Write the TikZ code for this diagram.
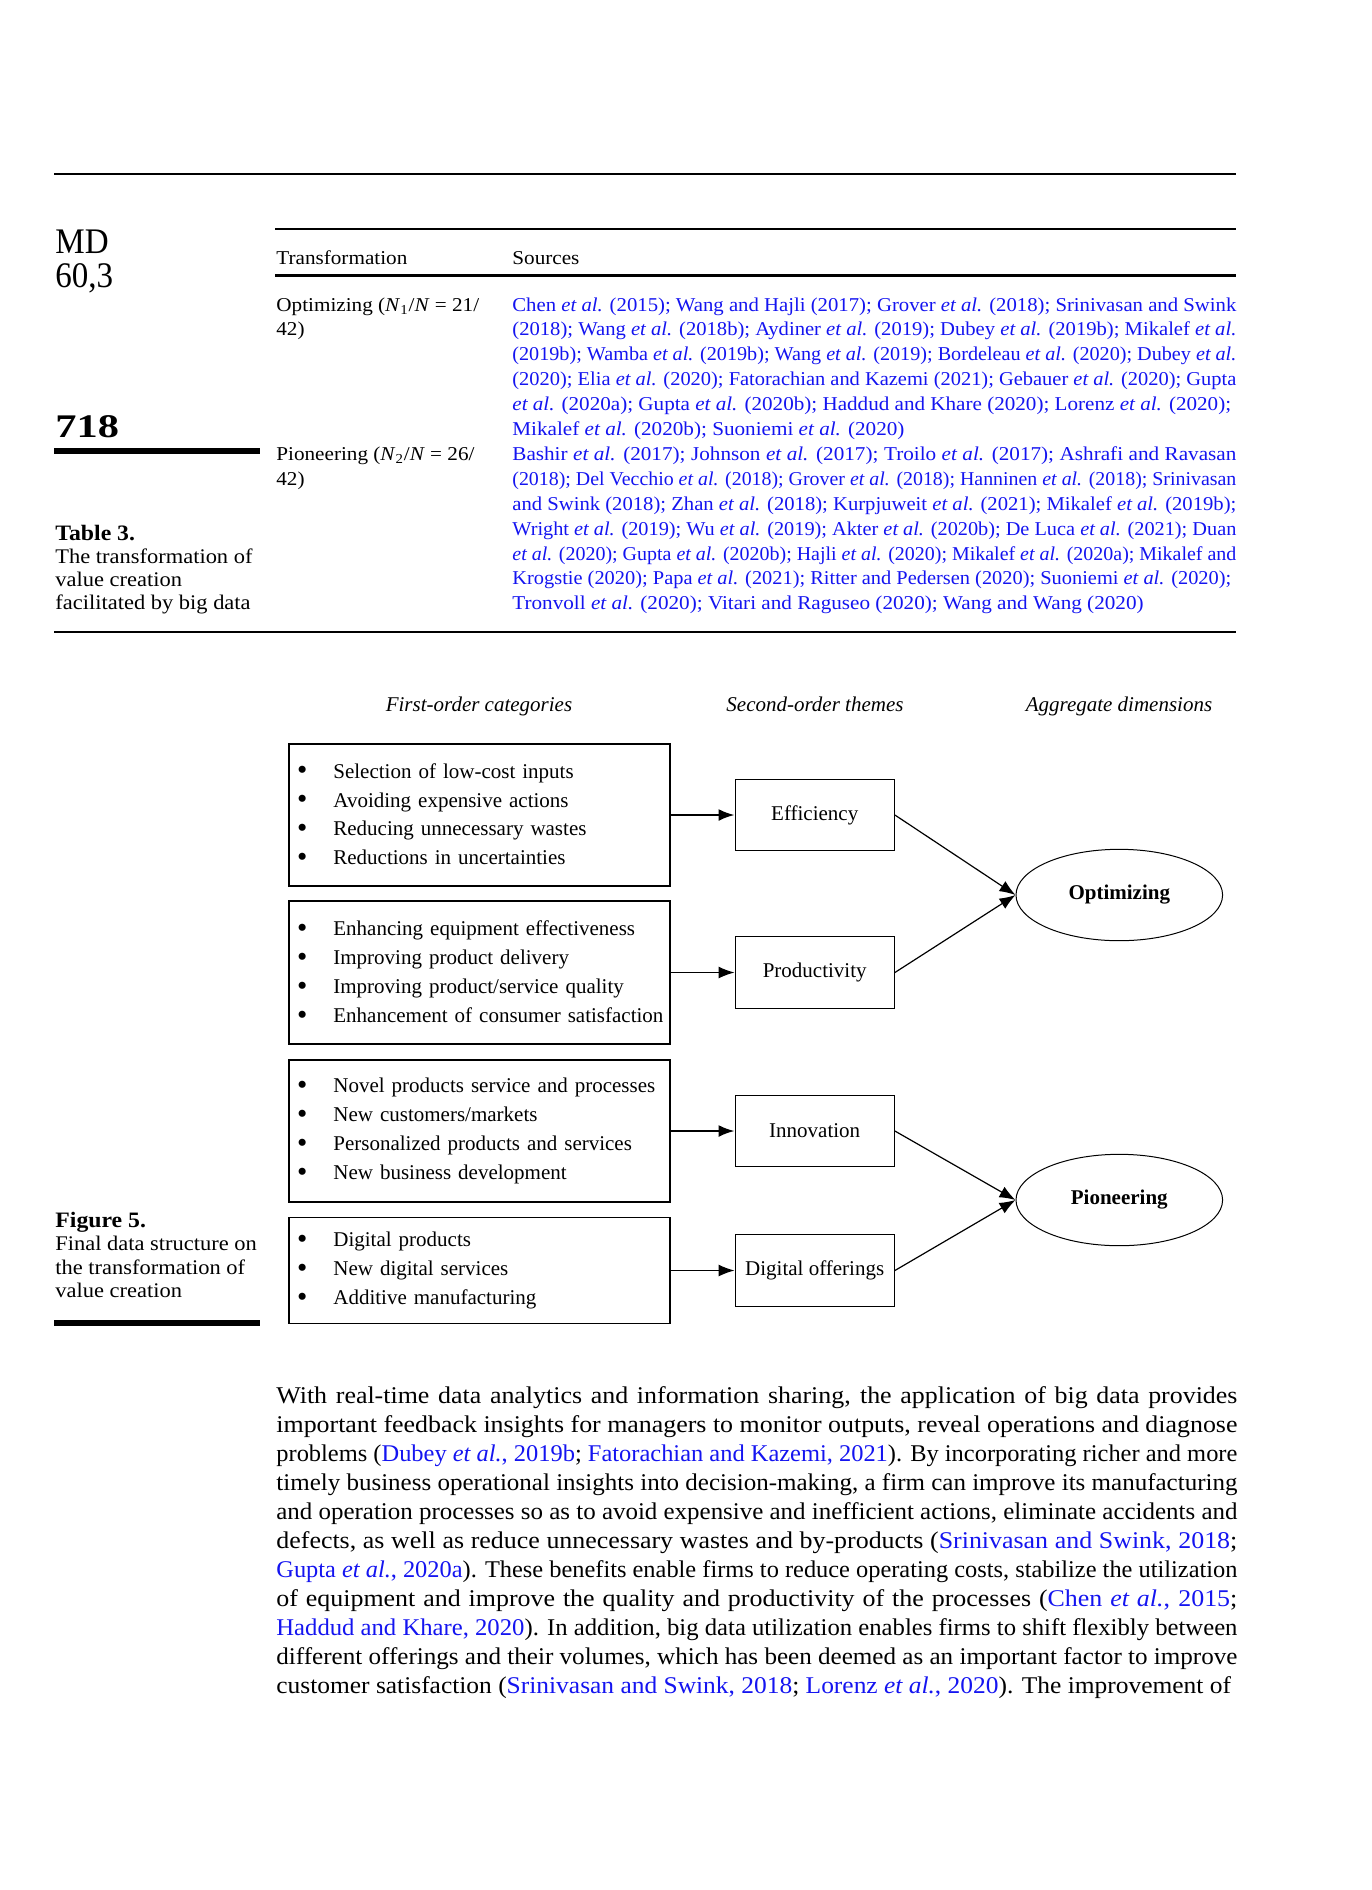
\documentclass[tikz,border=0pt]{standalone}
\usepackage{fontspec}
\setmainfont{Liberation Serif}[FakeStretch=1.08]
\newfontfamily\figfont{Liberation Serif}
\usepackage{graphicx}
\usepackage{xcolor}
\usetikzlibrary{
    arrows.meta,
    shapes.geometric,
    positioning
}
\definecolor{linkblue}{RGB}{20,20,240}

% one justified line of text
\newsavebox\jlinebox
\newcommand\jline[2]{%
  \sbox\jlinebox{#2}%
  \ifdim\wd\jlinebox>#1\relax
    \resizebox{#1}{\height}{\usebox\jlinebox}%
  \else
    \makebox[#1][s]{#2}%
  \fi}
\newcommand\etal{\textit{et al.}}
\newcommand\lk[1]{\textcolor{linkblue}{#1}}
\newcommand\bl{\makebox[20.2pt][l]{\hspace{2pt}\raisebox{-0.9pt}{\scalebox{1.4}{\textbullet}}}}

\tikzstyle{runhead} = [
    anchor=base west,
    inner sep=0pt,
    font=\fontsize{18}{18}\selectfont
]
\tikzstyle{pagenum} = [
    anchor=base west,
    inner sep=0pt,
    font=\fontsize{16.5}{18}\selectfont\bfseries
]
\tikzstyle{tabtext} = [
    anchor=base west,
    inner sep=0pt,
    font=\fontsize{9.8}{12}\selectfont
]
\tikzstyle{srcline} = [
    tabtext,
    text=linkblue
]
\tikzstyle{capbold} = [
    anchor=base west,
    inner sep=0pt,
    font=\fontsize{11}{12}\selectfont\bfseries
]
\tikzstyle{capline} = [
    anchor=base west,
    inner sep=0pt,
    font=\fontsize{10.4}{12}\selectfont
]
\tikzstyle{bodyline} = [
    anchor=base west,
    inner sep=0pt,
    font=\fontsize{12}{14}\selectfont
]
\tikzstyle{heading} = [
    anchor=base,
    inner sep=0pt,
    font=\figfont\fontsize{10.5}{12}\selectfont\itshape
]
\tikzstyle{catbox} = [
    draw,
    line width=0.7pt,
    align=left,
    text width=186.5pt,
    inner xsep=2pt,
    inner ysep=0pt,
    font=\figfont\fontsize{10.5}{14.45}\selectfont
]
\tikzstyle{theme} = [
    draw,
    line width=0.7pt,
    minimum width=79.5pt,
    minimum height=35.75pt,
    inner sep=1pt,
    font=\figfont\fontsize{10.5}{12}\selectfont
]
\tikzstyle{dimension} = [
    draw,
    ellipse,
    line width=0.5pt,
    minimum width=103.3pt,
    minimum height=45.7pt,
    inner sep=0pt,
    font=\figfont\fontsize{10.5}{12}\selectfont\bfseries
]
\tikzstyle{arrow} = [
    -{Latex[length=8pt,width=6pt]},
    line width=0.6pt
]
\tikzstyle{hrule} = [
    line width=1pt
]

\begin{document}
\begin{tikzpicture}[x=0.5pt, y=-0.5pt]
    \useasboundingbox (0,0) rectangle (1371,1890);

    % Running head
    \draw[hrule] (54,174) -- (1236,174);
    \node[runhead] (journal) at (55,253) {\scalebox{0.85}[1]{MD}};
    \node[runhead] (volume) at (55,287) {\scalebox{0.85}[1]{60,3}};
    \node[pagenum] (page) at (55,437) {\scalebox{1.19}[1]{718}};
    \draw[line width=3.3pt] (54,451) -- (260,451);

    % Table 3
    \draw[hrule] (275,229) -- (1236,229);
    \node[tabtext] (colA) at (276,264) {Transformation};
    \node[tabtext] (colB) at (512,264) {Sources};
    \draw[line width=1.5pt] (275,275) -- (1236,275);

    \node[tabtext] (opt1) at (276,311) {Optimizing (\textit{N}\textsubscript{1}/\textit{N} = 21/};
    \node[tabtext] (opt2) at (276,335.9) {42)};
    \node[tabtext] (pio1) at (276,460.4) {Pioneering (\textit{N}\textsubscript{2}/\textit{N} = 26/};
    \node[tabtext] (pio2) at (276,485.3) {42)};

    \foreach \txt [count=\i from 0] in {
        {Chen \etal{} (2015); Wang and Hajli (2017); Grover \etal{} (2018); Srinivasan and Swink},
        {(2018); Wang \etal{} (2018b); Aydiner \etal{} (2019); Dubey \etal{} (2019b); Mikalef \etal},
        {(2019b); Wamba \etal{} (2019b); Wang \etal{} (2019); Bordeleau \etal{} (2020); Dubey \etal},
        {(2020); Elia \etal{} (2020); Fatorachian and Kazemi (2021); Gebauer \etal{} (2020); Gupta},
        {\etal{} (2020a); Gupta \etal{} (2020b); Haddud and Khare (2020); Lorenz \etal{} (2020);}
    }{
        \node[srcline] (src\i) at (512,{311+24.9*\i}) {\jline{362pt}{\txt}};
    }
    \node[srcline] (src5) at (512,435.5) {Mikalef \etal{} (2020b); Suoniemi \etal{} (2020)};
    \foreach \txt [count=\i from 6] in {
        {Bashir \etal{} (2017); Johnson \etal{} (2017); Troilo \etal{} (2017); Ashrafi and Ravasan},
        {(2018); Del Vecchio \etal{} (2018); Grover \etal{} (2018); Hanninen \etal{} (2018); Srinivasan},
        {and Swink (2018); Zhan \etal{} (2018); Kurpjuweit \etal{} (2021); Mikalef \etal{} (2019b);},
        {Wright \etal{} (2019); Wu \etal{} (2019); Akter \etal{} (2020b); De Luca \etal{} (2021); Duan},
        {\etal{} (2020); Gupta \etal{} (2020b); Hajli \etal{} (2020); Mikalef \etal{} (2020a); Mikalef and},
        {Krogstie (2020); Papa \etal{} (2021); Ritter and Pedersen (2020); Suoniemi \etal{} (2020);}
    }{
        \node[srcline] (src\i) at (512,{311+24.9*\i}) {\jline{362pt}{\txt}};
    }
    \node[srcline] (src12) at (512,609.8) {Tronvoll \etal{} (2020); Vitari and Raguseo (2020); Wang and Wang (2020)};
    \draw[hrule] (54,632) -- (1236,632);

    % Table caption
    \node[capbold] (tabcap) at (55,540) {Table 3.};
    \foreach \txt [count=\i] in {The transformation of, value creation, facilitated by big data}
        \node[capline] (tabcap\i) at (55,{540+23.3*\i}) {\txt};

    % Figure 5: column headings
    \node[heading] (head1) at (479,711) {First-order categories};
    \node[heading] (head2) at (815,711) {Second-order themes};
    \node[heading] (head3) at (1119,711) {Aggregate dimensions};

    % First-order categories
    \node[catbox, minimum height=71pt] (cat1) at (479.5,815) {\bl Selection of low-cost inputs\\
        \bl Avoiding expensive actions\\ \bl Reducing unnecessary wastes\\ \bl Reductions in uncertainties};
    \node[catbox, minimum height=71.5pt] (cat2) at (479.5,972.5) {\bl Enhancing equipment effectiveness\\
        \bl Improving product delivery\\ \bl Improving product/service quality\\ \bl Enhancement of consumer satisfaction};
    \node[catbox, minimum height=71pt] (cat3) at (479.5,1131) {\bl Novel products service and processes\\
        \bl New customers/markets\\ \bl Personalized products and services\\ \bl New business development};
    \node[catbox, minimum height=53pt] (cat4) at (479.5,1270.5) {\bl Digital products\\
        \bl New digital services\\ \bl Additive manufacturing};

    % Second-order themes
    \node[theme] (eff) at (814.7,815) {Efficiency};
    \node[theme] (prod) at (814.7,972.5) {Productivity};
    \node[theme] (innov) at (814.7,1131) {Innovation};
    \node[theme] (digi) at (814.7,1270.5) {Digital offerings};

    % Aggregate dimensions
    \node[dimension] (optim) at (1119.3,895) {Optimizing};
    \node[dimension] (pion) at (1119.3,1200) {Pioneering};

    % Links
    \draw[arrow, line width=1pt] (cat1.east) -- (eff.west);
    \draw[arrow] (cat2.east) -- (prod.west);
    \draw[arrow, line width=1pt] (cat3.east) -- (innov.west);
    \draw[arrow] (cat4.east) -- (digi.west);
    \draw[arrow] (eff.east) -- (optim.west);
    \draw[arrow] (prod.east) -- (optim.west);
    \draw[arrow] (innov.east) -- (pion.west);
    \draw[arrow] (digi.east) -- (pion.west);

    % Figure caption
    \node[capbold] (figcap) at (55,1227) {Figure 5.};
    \foreach \txt [count=\i] in {Final data structure on, the transformation of, value creation}
        \node[capline] (figcap\i) at (55,{1227+23.5*\i}) {\txt};
    \draw[line width=2.6pt] (54,1323) -- (260,1323);

    % Body text
    \foreach \txt [count=\i from 0] in {
        {With real-time data analytics and information sharing, the application of big data provides},
        {important feedback insights for managers to monitor outputs, reveal operations and diagnose},
        {problems (\lk{Dubey \etal, 2019b}; \lk{Fatorachian and Kazemi, 2021}). By incorporating richer and more},
        {timely business operational insights into decision-making, a firm can improve its manufacturing},
        {and operation processes so as to avoid expensive and inefficient actions, eliminate accidents and},
        {defects, as well as reduce unnecessary wastes and by-products (\lk{Srinivasan and Swink, 2018};},
        {\lk{Gupta \etal, 2020a}). These benefits enable firms to reduce operating costs, stabilize the utilization},
        {of equipment and improve the quality and productivity of the processes (\lk{Chen \etal, 2015};},
        {\lk{Haddud and Khare, 2020}). In addition, big data utilization enables firms to shift flexibly between},
        {different offerings and their volumes, which has been deemed as an important factor to improve},
        {customer satisfaction (\lk{Srinivasan and Swink, 2018}; \lk{Lorenz \etal, 2020}). The improvement of}
    }{
        \node[bodyline] (body\i) at (276,{1403.3+28.97*\i}) {\jline{480.5pt}{\txt}};
    }
\end{tikzpicture}
\end{document}
